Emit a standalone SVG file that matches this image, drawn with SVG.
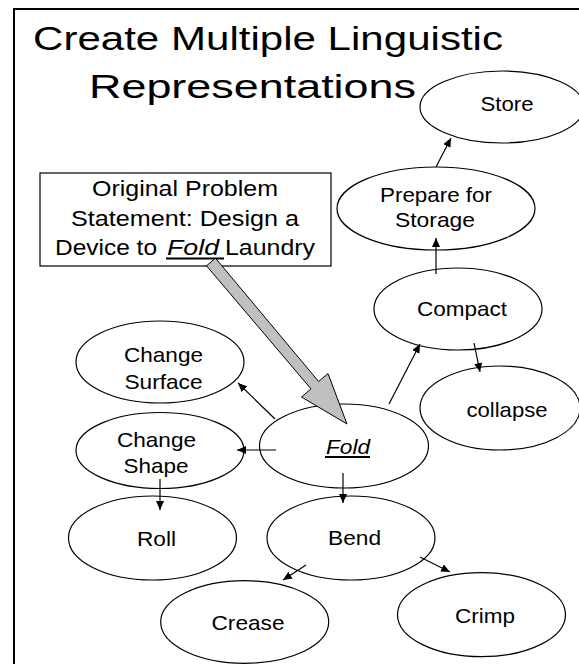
<svg xmlns="http://www.w3.org/2000/svg" width="579" height="664" viewBox="0 0 579 664">
<style>
.bg{fill:#fff}
.frame{fill:none;stroke:#000;stroke-width:2}
.title{font-family:"Liberation Sans",Arial,sans-serif;font-size:33px;fill:#000}
.box{fill:#fff;stroke:#000;stroke-width:1.2}
.bt{font-family:"Liberation Sans",Arial,sans-serif;font-size:22px;fill:#000}
.node ellipse{fill:#fff;stroke:#000;stroke-width:1.2}
.lbl{font-family:"Liberation Sans",Arial,sans-serif;font-size:21px;fill:#000;text-anchor:middle}
.it{font-style:italic}
.conn line{stroke:#000;stroke-width:1.2;marker-end:url(#ah)}
.ul{stroke:#000;stroke-width:2}
.fat{fill:#c0c0c0;stroke:#000;stroke-width:1}
</style>
<defs>
<marker id="ah" markerUnits="userSpaceOnUse" markerWidth="9" markerHeight="8" refX="9" refY="4" orient="auto">
<path d="M0,0 L9,4 L0,8 z" fill="#000"/>
</marker>
</defs>
<rect class="bg" x="0" y="0" width="579" height="664"/>
<rect class="frame" x="14" y="9" width="700" height="700"/>
<g id="title">
<text class="title" x="33" y="50" textLength="470" lengthAdjust="spacingAndGlyphs">Create Multiple  Linguistic</text>
<text class="title" x="89" y="98" textLength="327" lengthAdjust="spacingAndGlyphs">Representations</text>
</g>
<g id="problem">
<rect class="box" x="40" y="173" width="291" height="93"/>
<text class="bt" x="92" y="196" textLength="186" lengthAdjust="spacingAndGlyphs">Original Problem</text>
<text class="bt" x="71" y="225.5" textLength="228" lengthAdjust="spacingAndGlyphs">Statement: Design a</text>
<text class="bt" x="55" y="255" textLength="102" lengthAdjust="spacingAndGlyphs">Device to</text>
<text class="bt it" x="167" y="255" textLength="52" lengthAdjust="spacingAndGlyphs">Fold</text>
<text class="bt" x="225" y="255" textLength="90" lengthAdjust="spacingAndGlyphs">Laundry</text>
<line class="ul" x1="166" y1="258.5" x2="224" y2="258.5"/>
</g>
<g id="store" class="node">
<ellipse cx="502" cy="107" rx="82" ry="36"/>
<text class="lbl" x="507" y="110.5" textLength="53" lengthAdjust="spacingAndGlyphs">Store</text>
</g>
<g id="prepare" class="node">
<ellipse cx="436" cy="208.5" rx="99" ry="41.5"/>
<text class="lbl" x="436" y="201.5" textLength="112" lengthAdjust="spacingAndGlyphs">Prepare for</text>
<text class="lbl" x="435" y="226.5" textLength="80" lengthAdjust="spacingAndGlyphs">Storage</text>
</g>
<g id="compact" class="node">
<ellipse cx="458" cy="309" rx="84" ry="41"/>
<text class="lbl" x="462" y="316" textLength="90" lengthAdjust="spacingAndGlyphs">Compact</text>
</g>
<g id="collapse" class="node">
<ellipse cx="500" cy="408" rx="80" ry="42"/>
<text class="lbl" x="507" y="416.5" textLength="81" lengthAdjust="spacingAndGlyphs">collapse</text>
</g>
<g id="change-surface" class="node">
<ellipse cx="160" cy="362" rx="84" ry="41"/>
<text class="lbl" x="163.5" y="361.5" textLength="79" lengthAdjust="spacingAndGlyphs">Change</text>
<text class="lbl" x="163.5" y="389" textLength="78" lengthAdjust="spacingAndGlyphs">Surface</text>
</g>
<g id="change-shape" class="node">
<ellipse cx="160" cy="450.5" rx="84" ry="38"/>
<text class="lbl" x="156.5" y="446.5" textLength="79" lengthAdjust="spacingAndGlyphs">Change</text>
<text class="lbl" x="156" y="473" textLength="65" lengthAdjust="spacingAndGlyphs">Shape</text>
</g>
<g id="fold" class="node">
<ellipse cx="344" cy="446" rx="84.5" ry="42"/>
<text class="lbl it" x="348" y="453.5" textLength="44" lengthAdjust="spacingAndGlyphs">Fold</text>
<line class="ul" x1="325" y1="457" x2="370" y2="457"/>
</g>
<g id="roll" class="node">
<ellipse cx="152.5" cy="538" rx="84" ry="42"/>
<text class="lbl" x="156.5" y="546" textLength="39" lengthAdjust="spacingAndGlyphs">Roll</text>
</g>
<g id="bend" class="node">
<ellipse cx="351" cy="538" rx="84" ry="42"/>
<text class="lbl" x="354.5" y="545" textLength="53" lengthAdjust="spacingAndGlyphs">Bend</text>
</g>
<g id="crease" class="node">
<ellipse cx="244.7" cy="622" rx="84" ry="41.3"/>
<text class="lbl" x="248" y="630" textLength="73" lengthAdjust="spacingAndGlyphs">Crease</text>
</g>
<g id="crimp" class="node">
<ellipse cx="481.5" cy="614.7" rx="84" ry="42"/>
<text class="lbl" x="485" y="623" textLength="60" lengthAdjust="spacingAndGlyphs">Crimp</text>
</g>
<g id="connectors" class="conn">
<line x1="436" y1="167" x2="451" y2="138"/>
<line x1="436" y1="274" x2="436" y2="238"/>
<line x1="389" y1="404" x2="420" y2="344"/>
<line x1="474" y1="343" x2="480" y2="372"/>
<line x1="275" y1="419" x2="238" y2="383"/>
<line x1="276" y1="450" x2="237" y2="450"/>
<line x1="160" y1="479" x2="160" y2="510"/>
<line x1="343" y1="473" x2="343" y2="503"/>
<line x1="306" y1="565" x2="283" y2="580"/>
<line x1="420" y1="557" x2="450" y2="572"/>
</g>
<g id="problem-arrow">
<polygon class="fat" points="215.5,258.2 318.6,381.5 328,373.6 347,424 301.5,397 311,388.9 206.5,265.8"/>
</g>
</svg>
